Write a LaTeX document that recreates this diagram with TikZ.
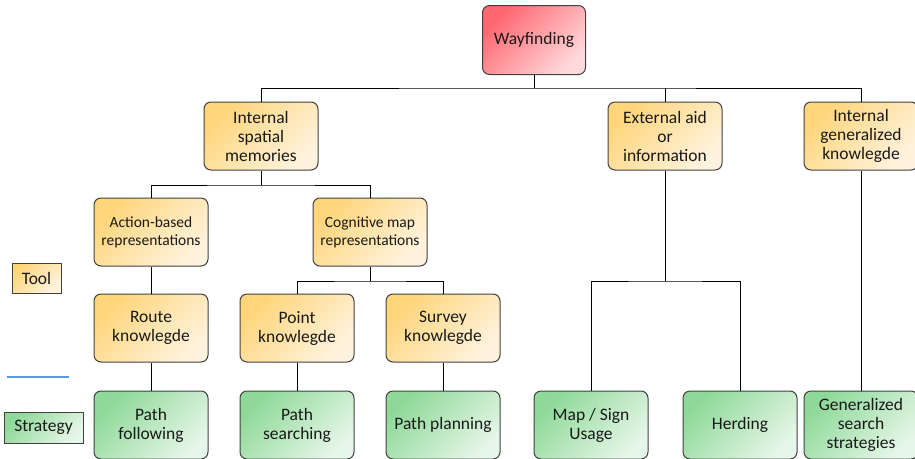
\documentclass[tikz,border=0pt]{standalone}
\usepackage{fontspec}
\setmainfont{Carlito}
\usepackage{tikz}
\usetikzlibrary{positioning}

\definecolor{toolA}{HTML}{FFD57A}
\definecolor{toolB}{HTML}{FFF3DE}
\definecolor{stratA}{HTML}{8ED998}
\definecolor{stratB}{HTML}{E6F6E8}
\definecolor{rootA}{HTML}{FF6670}
\definecolor{rootB}{HTML}{FFD9DB}
\definecolor{boxline}{HTML}{404040}
\definecolor{sepblue}{HTML}{5B9BD5}

\begin{document}
\begin{tikzpicture}[x=1pt, y=-1pt, line width=1pt,
  box/.style={rectangle, rounded corners=7pt, draw=boxline, align=center,
    minimum width=114pt, minimum height=68pt, inner sep=2pt,
    font=\fontsize{17.5}{19}\selectfont, text=black!90},
  tool node/.style={box, top color=toolA, bottom color=toolB, shading angle=45},
  strat node/.style={box, top color=stratA, bottom color=stratB, shading angle=45},
  root node/.style={box, top color=rootA, bottom color=rootB, shading angle=45,
    minimum width=103pt, minimum height=69pt},
  small/.style={font=\fontsize{15.5}{18}\selectfont},
  legend/.style={rectangle, draw=boxline, inner sep=0pt, text=black!90,
    font=\fontsize{17.5}{19}\selectfont}]

\useasboundingbox (0,0) rectangle (915,458);

% root and first level
\node[root node] (way) at (534,40) {Wayfinding};
\node[tool node] (ism) at (261,136) {Internal\\spatial\\memories};
\node[tool node] (ext) at (665,136) {External aid\\or\\information};
\node[tool node] (ign) at (861,136) {Internal\\generalized\\knowlegde};

% second level
\node[tool node, small] (act) at (151,232) {Action-based\\representations};
\node[tool node, small] (cog) at (370,232) {Cognitive map\\representations};

% knowledge
\node[tool node] (route) at (151,328) {Route\\knowlegde};
\node[tool node] (point) at (297,328) {Point\\knowlegde};
\node[tool node] (survey) at (443,328) {Survey\\knowlegde};

% strategies
\node[strat node] (follow) at (151,425) {Path\\following};
\node[strat node] (search) at (297,425) {Path\\searching};
\node[strat node] (plan) at (443,425) {Path planning};
\node[strat node] (map) at (591,425) {Map / Sign\\Usage};
\node[strat node] (herd) at (740,425) {Herding};
\node[strat node] (gen) at (861,425) {Generalized\\search\\strategies};

% legend
\node[legend, top color=toolA, bottom color=toolB, shading angle=45,
  minimum width=49pt, minimum height=30pt] (tool) at (36.5,278) {Tool};
\node[legend, top color=stratA, bottom color=stratB, shading angle=45,
  minimum width=79pt, minimum height=31pt] (strat) at (43.5,427.5) {Strategy};
\coordinate (sepL) at (7,377);
\coordinate (sepR) at (69,377);
\draw[sepblue, line width=2.5pt] (sepL) -- (sepR);

% connectors
\coordinate (bar1) at (534,88);
\coordinate (bar2) at (261,185);
\coordinate (bar3) at (370,281);
\coordinate (bar4) at (665,281);

\draw (way.south) -- (bar1);
\draw (ism.north) |- (bar1) -| (ign.north);
\draw (ext.north) -- (ext.north |- bar1);

\draw (ism.south) -- (bar2);
\draw (act.north) |- (bar2) -| (cog.north);

\draw (cog.south) -- (bar3);
\draw (point.north) |- (bar3) -| (survey.north);

\draw (act.south) -- (route.north);
\draw (route.south) -- (follow.north);
\draw (point.south) -- (search.north);
\draw (survey.south) -- (plan.north);

\draw (ext.south) -- (bar4);
\draw (map.north) |- (bar4) -| (herd.north);
\draw (ign.south) -- (gen.north);
\end{tikzpicture}
\end{document}
